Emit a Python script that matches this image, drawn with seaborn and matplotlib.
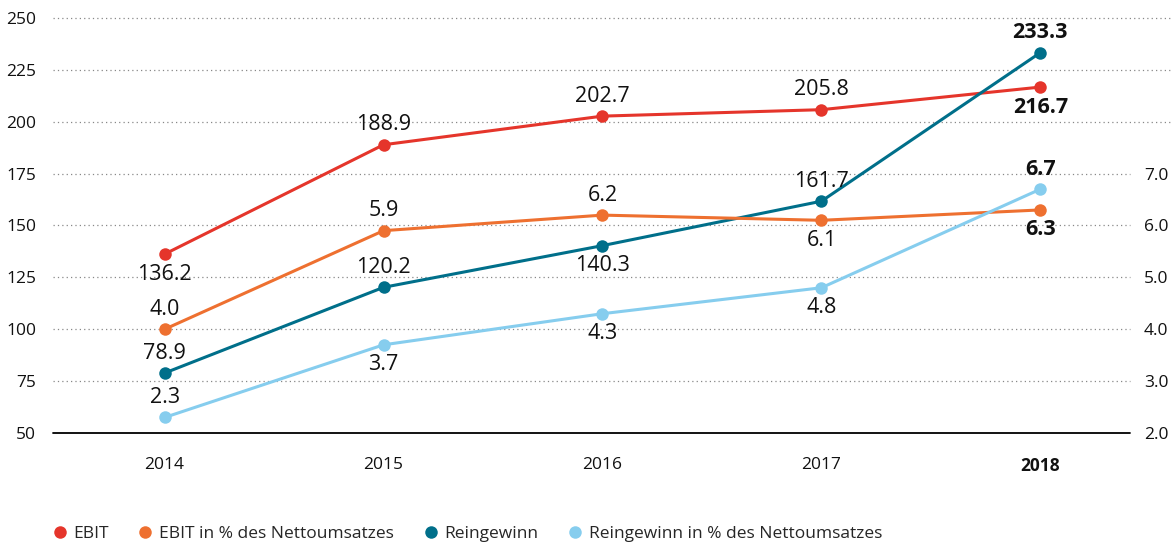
import pandas as pd
import numpy as np
import matplotlib.pyplot as plt
import seaborn as sns
from matplotlib.lines import Line2D

# Daten
years = ["2014", "2015", "2016", "2017", "2018"]
ebit = [136.2, 188.9, 202.7, 205.8, 216.7]
ebit_pct = [4.0, 5.9, 6.2, 6.1, 6.3]
reingewinn = [78.9, 120.2, 140.3, 161.7, 233.3]
reingewinn_pct = [2.3, 3.7, 4.3, 4.8, 6.7]

names = ["EBIT", "EBIT in % des Nettoumsatzes", "Reingewinn",
         "Reingewinn in % des Nettoumsatzes"]
colors = ["#e5352b", "#ee7030", "#006f8a", "#86cdee"]
# Beschriftung oben (+1) oder unten (-1)
label_side = [
    [-1, 1, 1, 1, -1],
    [1, 1, 1, -1, -1],
    [1, 1, -1, 1, 1],
    [1, -1, -1, -1, 1],
]

sns.set_theme(style="white")
plt.rcParams['font.family'] = ['Open Sans', 'DejaVu Sans']

fig = plt.figure(figsize=(11.76, 5.44), dpi=100)
ax = fig.add_axes([0.045, 0.204, 0.916, 0.763])
ax2 = ax.twinx()

x = np.arange(len(years))
series = [(ax, ebit), (ax2, ebit_pct), (ax, reingewinn), (ax2, reingewinn_pct)]
for i, ((a, vals), col) in enumerate(zip(series, colors)):
    df = pd.DataFrame({"x": x, "y": vals})
    sns.lineplot(data=df, x="x", y="y", ax=a, color=col, linewidth=2.2,
                 marker="o", markersize=9, markeredgewidth=0, zorder=3)
    for j, v in enumerate(vals):
        a.annotate(f"{v:.1f}", (j, v), xytext=(0, 20 * label_side[i][j]),
                   textcoords="offset pixels",
                   ha="center", va="center", fontsize=15.5,
                   fontweight="bold" if j == 4 else "normal", color="#111111")

ax.set_xlim(-0.51, 4.41)
ax.set_ylim(50, 250)
ax2.set_ylim(2, 10)
ax.set_yticks(range(50, 251, 25))
ax2.set_yticks([2, 3, 4, 5, 6, 7])
ax2.set_yticklabels([f"{v:.1f}" for v in [2, 3, 4, 5, 6, 7]])
ax.set_xticks(x)
ax.set_xticklabels(years)
ax.get_xticklabels()[-1].set_fontweight("bold")
for a in (ax, ax2):
    a.set_xlabel("")
    a.set_ylabel("")
    for s in a.spines.values():
        s.set_visible(False)
    a.tick_params(length=0, labelsize=12.5, colors="#111111")
ax.tick_params(axis="x", pad=17)
ax.tick_params(axis="y", pad=12)
ax2.tick_params(axis="y", pad=10)

# Gitterlinien
for yv in range(75, 251, 25):
    right = 1.04 if yv > 175 else 1.0
    ax.plot([0, right], [yv, yv], transform=ax.get_yaxis_transform(),
            color="#888888", linestyle=(0, (1, 2.5)), linewidth=0.9,
            clip_on=False, zorder=1)
ax.plot([0, 1], [50, 50], transform=ax.get_yaxis_transform(),
        color="black", linewidth=1.3, clip_on=False, zorder=1)

handles = [Line2D([], [], linestyle="", marker="o", markersize=9,
                  markeredgewidth=0, color=c) for c in colors]
fig.legend(handles, names, loc="lower left", bbox_to_anchor=(0.03, -0.025),
           ncol=4, frameon=False, fontsize=12.5, handletextpad=0.3,
           columnspacing=1.6, handlelength=1.0)

fig.savefig("out.png", dpi=100)
